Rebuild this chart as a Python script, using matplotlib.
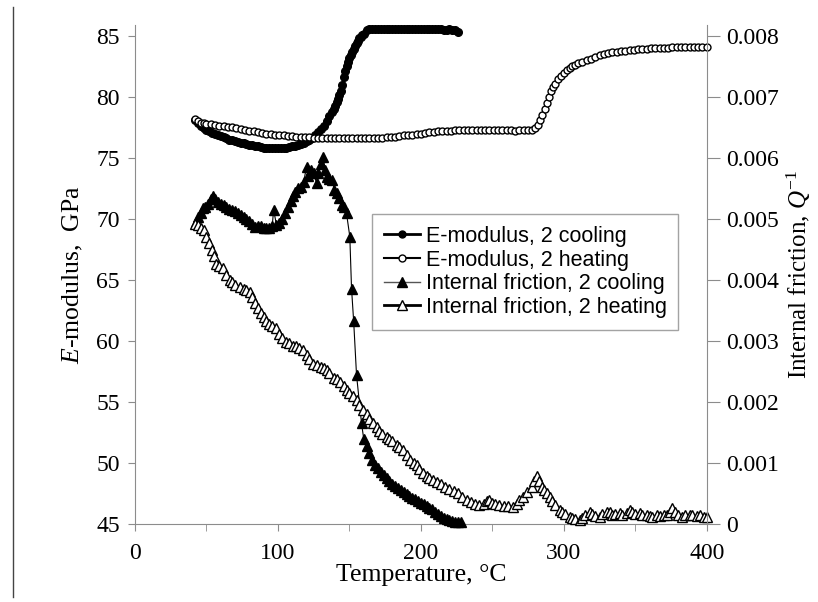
import matplotlib
matplotlib.use("Agg")
import matplotlib.pyplot as plt
from matplotlib.lines import Line2D

plt.rcParams['font.family'] = ['Liberation Serif', 'DejaVu Serif']
plt.rcParams['mathtext.fontset'] = 'custom'
plt.rcParams['mathtext.rm'] = 'Liberation Serif'
plt.rcParams['mathtext.it'] = 'Liberation Serif:italic'

# E-modulus, 2 cooling (temperature decreasing)
t_e_cool = [226, 224, 222, 220, 218, 216, 214, 212, 210, 208, 206, 204, 202, 200,
            198, 196, 194, 192, 190, 188, 186, 184, 182, 180, 178, 176, 174, 172,
            170, 168, 166, 164, 162, 160, 159, 158, 157, 156, 155, 154, 153, 152,
            151, 150, 149, 148, 147, 146, 145, 144, 143, 142, 141, 140, 139, 138,
            136, 134, 132, 130, 128, 126, 124, 122, 120, 118, 116, 114, 112, 110,
            108, 106, 104, 102, 100, 98, 96, 94, 92, 90, 88, 86, 84, 82, 80, 78,
            76, 74, 72, 70, 68, 66, 64, 62, 60, 58, 56, 54, 52, 50, 48, 46, 44, 42]
e_cool = [85.35, 85.45, 85.5, 85.55, 85.5, 85.45, 85.55, 85.6, 85.55, 85.6, 85.6, 85.55, 85.6, 85.6,
          85.6, 85.6, 85.6, 85.6, 85.6, 85.6, 85.6, 85.6, 85.6, 85.6, 85.6, 85.6, 85.6, 85.6,
          85.6, 85.6, 85.6, 85.55, 85.45, 85.2, 85.1, 84.95, 84.8, 84.6, 84.4, 84.2, 83.95, 83.7,
          83.45, 83.2, 82.9, 82.55, 82.1, 81.6, 81.0, 80.5, 80.15, 79.85, 79.55, 79.3, 79.05, 78.8,
          78.4, 78.0, 77.65, 77.35, 77.1, 76.85, 76.65, 76.5, 76.35, 76.25, 76.15, 76.05, 76.0, 75.95,
          75.9, 75.85, 75.8, 75.8, 75.8, 75.8, 75.8, 75.8, 75.85, 75.85, 75.9, 75.95, 76.0, 76.05, 76.1, 76.15,
          76.2, 76.25, 76.3, 76.35, 76.45, 76.5, 76.6, 76.7, 76.8, 76.85, 76.95, 77.05, 77.2, 77.3, 77.45, 77.6, 77.85, 78.1]

# E-modulus, 2 heating
t_e_heat = [42, 44, 46, 48, 50, 53, 56, 59, 62, 65, 68, 71, 74, 77, 80, 83, 86, 89, 92, 95,
            98, 101, 104, 107, 110, 113, 116, 119, 122, 125, 128, 131, 134, 137, 140, 143,
            146, 149, 152, 155, 158, 161, 164, 167, 170, 173, 176, 179, 182, 185, 188, 191,
            194, 197, 200, 203, 206, 209, 212, 215, 218, 221, 224, 227, 230, 233, 236, 239,
            242, 245, 248, 251, 254, 257, 260, 263, 266, 269, 272, 275, 278, 280, 282, 283.5,
            285, 286.5, 288, 289.5, 291, 292.5, 294, 296, 298, 300, 302, 304, 306, 308, 310,
            313, 316, 319, 322, 325, 328, 331, 334, 337, 340, 343, 346, 349, 352, 355, 358,
            361, 364, 367, 370, 373, 376, 379, 382, 385, 388, 391, 394, 397, 400]
e_heat = [78.2, 78.0, 77.9, 77.85, 77.8, 77.75, 77.7, 77.65, 77.6, 77.55, 77.5, 77.45, 77.4, 77.3, 77.25, 77.2, 77.1, 77.05, 77.0, 76.95,
          76.9, 76.85, 76.85, 76.8, 76.8, 76.75, 76.75, 76.7, 76.7, 76.65, 76.65, 76.6, 76.6, 76.6, 76.6, 76.6,
          76.6, 76.6, 76.6, 76.6, 76.6, 76.6, 76.6, 76.6, 76.6, 76.65, 76.7, 76.7, 76.75, 76.8, 76.85, 76.9,
          76.9, 76.95, 77.0, 77.05, 77.1, 77.15, 77.2, 77.2, 77.25, 77.25, 77.3, 77.3, 77.3, 77.3, 77.3, 77.3,
          77.3, 77.3, 77.3, 77.3, 77.3, 77.3, 77.3, 77.3, 77.25, 77.3, 77.3, 77.3, 77.3, 77.45, 77.7, 78.1,
          78.5, 79.0, 79.5, 80.0, 80.45, 80.8, 81.1, 81.45, 81.75, 82.0, 82.2, 82.35, 82.5, 82.65, 82.75,
          82.9, 83.0, 83.15, 83.3, 83.4, 83.5, 83.6, 83.65, 83.7, 83.75, 83.8, 83.85, 83.85, 83.9, 83.95, 83.95,
          84.0, 84.0, 84.05, 84.05, 84.05, 84.1, 84.1, 84.1, 84.1, 84.1, 84.1, 84.1, 84.1, 84.1]

# Internal friction, 2 cooling
t_q_cool = [228, 226, 224, 222, 220, 218, 216, 214, 212, 210, 208, 206, 204, 202, 200,
            198, 196, 194, 192, 190, 188, 186, 184, 182, 180, 178, 176, 174, 172, 170,
            168, 166, 164, 162, 160, 158.5, 155, 153, 151.5, 150.3, 148, 146, 144.5, 143,
            141, 139.5, 138, 136, 134, 133, 131.7, 130, 128, 127, 125, 123, 121, 120, 118,
            116, 114, 112, 110.5, 109, 107, 105, 103, 101, 99, 97, 96, 94, 92, 90, 88, 86,
            84, 82, 80, 78, 76, 74, 72, 70, 68, 66, 64, 62, 60, 58, 56, 54.8, 53, 51, 49,
            47.8, 46, 44.3, 43]
q_cool = [0.00003, 0.00003, 0.00004, 0.00005, 0.00006, 0.00008, 0.0001, 0.00013, 0.00016, 0.0002, 0.00024, 0.00027, 0.0003, 0.00033, 0.00035,
          0.00038, 0.00041, 0.00043, 0.00046, 0.00049, 0.00052, 0.00055, 0.00059, 0.00062, 0.00066, 0.0007, 0.00076, 0.00081, 0.00086, 0.00091,
          0.00097, 0.00105, 0.00116, 0.00128, 0.0014, 0.00165, 0.00244, 0.00332, 0.00386, 0.00471, 0.00509, 0.0052, 0.00523, 0.00535,
          0.00542, 0.00548, 0.00564, 0.00565, 0.00569, 0.0058, 0.00602, 0.0059, 0.00575, 0.00559, 0.00575, 0.0058, 0.0057, 0.00586, 0.0056,
          0.00553, 0.0055, 0.00545, 0.00538, 0.0053, 0.0052, 0.0051, 0.005, 0.00494, 0.0049, 0.00515, 0.00488, 0.00486, 0.00485, 0.00486, 0.00488, 0.00488,
          0.00487, 0.00492, 0.00496, 0.005, 0.00503, 0.00506, 0.0051, 0.00513, 0.00515, 0.00517, 0.0052, 0.00523, 0.00525, 0.00528, 0.00533, 0.00537, 0.00532, 0.00525, 0.0052,
          0.00518, 0.0051, 0.00504, 0.00495]

# Internal friction, 2 heating
t_q_heat = [42, 44, 46, 48, 50, 52, 53.6, 55, 57, 59, 61.7, 64, 66.4, 68, 70, 73.4, 76, 78,
            80.4, 82, 84, 86, 88, 90, 92, 94, 96, 99, 101, 103, 106, 108, 110.7, 113, 115,
            117.7, 120, 122, 124.7, 127, 130, 132, 134, 136, 139, 141, 143.4, 146, 148, 150,
            152.7, 155, 157, 159.7, 162, 164, 166.6, 169, 171, 173, 176, 178, 180, 183, 185,
            187.6, 190, 192.3, 195, 197, 199, 201.6, 204, 206, 208.6, 211, 214, 217, 220, 223,
            226, 229, 232, 235, 238, 241, 244, 246, 248, 250, 252, 255, 258, 261, 264.5, 267,
            269, 271.5, 274, 277.4, 279, 280.9, 282.5, 284.4, 286, 288, 290.2, 292, 294, 297,
            299, 301, 304, 306, 308, 311, 313, 315, 318, 320, 322, 325, 327, 330, 332, 334,
            336, 339, 341, 344, 346, 348, 350, 353, 355, 358, 360, 362, 365, 367, 370, 372,
            374, 376, 378, 380, 383, 385, 388, 390, 393, 395, 398, 400]
q_heat = [0.00492, 0.0049, 0.00486, 0.00482, 0.00471, 0.0046, 0.00449, 0.0044, 0.00427, 0.00423, 0.00419, 0.00408, 0.004, 0.00396, 0.00392, 0.00389, 0.00386, 0.00383,
          0.00381, 0.00372, 0.00362, 0.00354, 0.00346, 0.0034, 0.00333, 0.00328, 0.00325, 0.00322, 0.00312, 0.00305, 0.00298, 0.00296, 0.00291, 0.00292, 0.00289,
          0.00285, 0.00277, 0.0027, 0.00263, 0.0026, 0.00257, 0.00255, 0.00252, 0.00247, 0.0024, 0.00237, 0.00233, 0.00226, 0.0022, 0.00215,
          0.00209, 0.00203, 0.00195, 0.00187, 0.0018, 0.00172, 0.00165, 0.00159, 0.00153, 0.00148, 0.00143, 0.0014, 0.00136, 0.0013, 0.00127,
          0.00121, 0.00113, 0.00105, 0.001, 0.00097, 0.0009, 0.00083, 0.00079, 0.00075, 0.00072, 0.00069, 0.00065, 0.00061, 0.00058, 0.00054,
          0.0005, 0.00045, 0.00039, 0.00036, 0.00033, 0.00031, 0.00033, 0.00038, 0.00039, 0.00035, 0.00033, 0.00031, 0.0003, 0.0003, 0.00028, 0.00033,
          0.0004, 0.00045, 0.00052, 0.00061, 0.0007, 0.00078, 0.0007, 0.00061, 0.00055, 0.0005, 0.00045, 0.00038, 0.00031, 0.00023,
          0.0002, 0.00016, 0.00012, 0.0001, 0.00008, 0.00007, 0.0001, 0.00015, 0.0002, 0.00016, 0.00013, 0.00012, 0.00016, 0.0002, 0.0002, 0.00015,
          0.00016, 0.00018, 0.00015, 0.00018, 0.00023, 0.00019, 0.00016, 0.00018, 0.00015, 0.00014, 0.00013, 0.00012, 0.00014, 0.00013, 0.00015, 0.00015,
          0.0002, 0.00026, 0.0002, 0.00014, 0.00012, 0.00014, 0.00015, 0.00015, 0.00013, 0.00014, 0.00012, 0.00012]

labels = ["E-modulus, 2 cooling", "E-modulus, 2 heating",
          "Internal friction, 2 cooling", "Internal friction, 2 heating"]

fig = plt.figure(figsize=(8.18, 6.02), dpi=100)
ax = fig.add_axes([0.165, 0.1296, 0.699, 0.8289])
ax2 = ax.twinx()

# E-modulus on the left axis
ax.plot(t_e_cool, e_cool, color='black', lw=1, marker='o', ms=5.5,
        mfc='black', mec='black', clip_on=False)
ax.plot(t_e_heat, e_heat, color='black', lw=1, marker='o', ms=5,
        mfc='white', mec='black', mew=1, clip_on=False)

# Internal friction on the right axis
ax2.plot(t_q_cool, q_cool, color='black', lw=0.8, marker='^', ms=7,
         mfc='black', mec='black', clip_on=False)
ax2.plot(t_q_heat, q_heat, color='black', lw=1, marker='^', ms=7,
         mfc='white', mec='black', mew=1, clip_on=False)

# the axis lines run a little above the top tick, as in the original
e_top = 85.9
ax.set_xlim(0, 400)
ax.set_ylim(45, e_top)
ax2.set_ylim(0, 0.008 * (e_top - 45) / 40)
ax.set_xticks([0, 100, 200, 300, 400])
ax.set_yticks(range(45, 86, 5))
ax2.set_yticks([0, 0.001, 0.002, 0.003, 0.004, 0.005, 0.006, 0.007, 0.008])
ax2.set_yticklabels(["0", "0.001", "0.002", "0.003", "0.004", "0.005",
                     "0.006", "0.007", "0.008"])
ax.set_xticks([50, 150, 250, 350], minor=True)

grey = '#8c8c8c'
for a in (ax, ax2):
    a.spines['top'].set_visible(False)
    for s in ('left', 'right', 'bottom'):
        a.spines[s].set_color(grey)
ax.spines['right'].set_visible(False)
ax2.spines['left'].set_visible(False)
ax2.spines['bottom'].set_visible(False)

ax.tick_params(axis='y', which='major', labelsize=17, color=grey,
               direction='out', length=5, pad=6)
ax.tick_params(axis='x', which='major', labelsize=17, color=grey,
               direction='out', length=5, pad=9)
ax.tick_params(axis='x', which='minor', color=grey, direction='out', length=5)
ax2.tick_params(axis='y', labelsize=17, color=grey, direction='out',
                length=9, pad=5)

ax.set_xlabel("Temperature, \u00b0C", fontsize=18.5, labelpad=0)
ax.set_ylabel(r"$\mathit{E}$-modulus,  GPa", fontsize=18.5, labelpad=8)
ax2.set_ylabel(r"Internal friction, $\mathit{Q}^{\mathrm{-1}}$", fontsize=18,
               labelpad=4)

handles = [
    Line2D([], [], color='black', lw=2, marker='o', ms=5, mfc='black'),
    Line2D([], [], color='black', lw=1.5, marker='o', ms=5, mfc='white'),
    Line2D([], [], color='#555555', lw=1, marker='^', ms=6.5, mfc='black', mec='black'),
    Line2D([], [], color='black', lw=2, marker='^', ms=6.5, mfc='white'),
]
leg = ax2.legend(handles, labels, loc='upper left',
                 bbox_to_anchor=(0.414, 0.621), frameon=True, fancybox=False,
                 prop={'family': 'Liberation Sans', 'size': 15.5},
                 handlelength=1.7, handletextpad=0.25, labelspacing=0.12,
                 borderpad=0.55, borderaxespad=0)
leg.get_frame().set_edgecolor(grey)
leg.get_frame().set_linewidth(1)

# vertical separator line at the left edge
fig.add_artist(Line2D([13 / 818, 13 / 818], [1 - 7 / 602, 1 - 597 / 602],
                      color='#444444', lw=1))

fig.savefig("out.png", dpi=100)
